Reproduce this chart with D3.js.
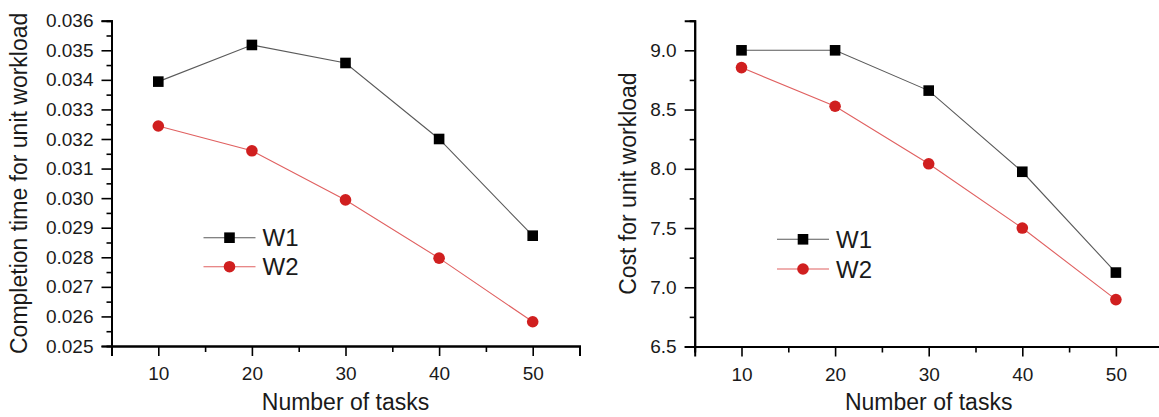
<!DOCTYPE html>
<html>
<head>
<meta charset="utf-8">
<script src="https://cdn.jsdelivr.net/npm/d3@7"></script>
<style>
  html, body { margin: 0; padding: 0; background: #fff; }
  svg { display: block; font-family: "Liberation Sans", Arial, sans-serif; }
</style>
</head>
<body>
<svg id="chart" width="1159" height="417"></svg>
<script>
// Number of tasks on the x axis
const tasks = [10, 20, 30, 40, 50];
const xMajorTicks = [10, 20, 30, 40, 50];
const xMinorTicks = [5, 15, 25, 35, 45, 55];

// Left panel: completion time for unit workload
const timeW1 = [0.03394, 0.03518, 0.03457, 0.0320, 0.02873];
const timeW2 = [0.03244, 0.0316, 0.02994, 0.02797, 0.02582];
const timeTicks = [0.025, 0.026, 0.027, 0.028, 0.029, 0.030, 0.031, 0.032, 0.033, 0.034, 0.035, 0.036];
const timeMinorTicks = [0.0255, 0.0265, 0.0275, 0.0285, 0.0295, 0.0305, 0.0315, 0.0325, 0.0335, 0.0345, 0.0355];

// Right panel: cost for unit workload
const costW1 = [9.0, 9.0, 8.66, 7.975, 7.124];
const costW2 = [8.854, 8.528, 8.042, 7.50, 6.896];
const costTicks = [6.5, 7.0, 7.5, 8.0, 8.5, 9.0];
const costMinorTicks = [6.75, 7.25, 7.75, 8.25, 8.75, 9.25];

const seriesNames = ["W1", "W2"];

const svg = d3.select("#chart");
const FONT = "'Liberation Sans', Arial, sans-serif";

const styles = {
  W1: { line: "#5a5a5a", fill: "#000000", shape: "square" },
  W2: { line: "#e06060", fill: "#d01f1f", shape: "circle" }
};

function drawPanel(cfg) {
  const x = d3.scaleLinear().domain([5, 55]).range([cfg.left, cfg.left + 468]);
  const y = d3.scaleLinear().domain(cfg.yDomain).range([cfg.bottom, cfg.top]);
  const g = svg.append("g");

  // minor ticks
  g.append("g").attr("transform", `translate(0,${cfg.bottom})`)
    .call(d3.axisBottom(x).tickValues(xMinorTicks).tickSize(6).tickFormat(""));
  g.append("g").attr("transform", `translate(${cfg.left},0)`)
    .call(d3.axisLeft(y).tickValues(cfg.yMinor).tickSize(5).tickFormat(""));

  // major axes
  const xAxis = g.append("g").attr("transform", `translate(0,${cfg.bottom})`)
    .call(d3.axisBottom(x).tickValues(xMajorTicks).tickSize(10).tickPadding(5).tickFormat(d3.format("d")));
  g.append("g").attr("transform", `translate(${cfg.left},0)`)
    .call(d3.axisLeft(y).tickValues(cfg.yTicks).tickSize(10).tickPadding(8).tickFormat(cfg.yFormat));

  g.selectAll(".domain").attr("stroke", "#000").attr("stroke-width", 2);
  g.selectAll(".tick line").attr("stroke", "#000").attr("stroke-width", 1.6);
  g.selectAll(".tick text").attr("fill", "#1a1a1a").attr("font-size", 19).attr("font-family", FONT);
  xAxis.selectAll(".tick text").attr("dy", "1.0em");

  // axis titles
  g.append("text")
    .attr("x", x(30)).attr("y", 410)
    .attr("text-anchor", "middle")
    .attr("font-size", 23).attr("font-family", FONT).attr("fill", "#1a1a1a")
    .text("Number of tasks");
  g.append("text")
    .attr("transform", `translate(${cfg.titleX},${(cfg.top + cfg.bottom) / 2}) rotate(-90)`)
    .attr("text-anchor", "middle")
    .attr("font-size", 23).attr("font-family", FONT).attr("fill", "#1a1a1a")
    .text(cfg.yTitle);

  // series lines and markers
  const seriesData = [cfg.w1, cfg.w2];
  seriesNames.forEach((name, i) => {
    const st = styles[name];
    const pts = tasks.map((t, j) => [t, seriesData[i][j]]);
    g.append("path")
      .datum(pts)
      .attr("fill", "none")
      .attr("stroke", st.line)
      .attr("stroke-width", 1.1)
      .attr("d", d3.line().x(d => x(d[0])).y(d => y(d[1])));
    drawMarkers(g, pts.map(d => [x(d[0]), y(d[1])]), st);
  });

  // legend
  seriesNames.forEach((name, i) => {
    const st = styles[name];
    const ly = cfg.legendY[i];
    const lx = cfg.legendX;
    g.append("line")
      .attr("x1", lx).attr("x2", lx + 52)
      .attr("y1", ly).attr("y2", ly)
      .attr("stroke", st.line).attr("stroke-width", 1.1);
    drawMarkers(g, [[lx + 26, ly]], st);
    g.append("text")
      .attr("x", lx + 59).attr("y", ly)
      .attr("dy", "0.36em")
      .attr("font-size", 24).attr("font-family", FONT).attr("fill", "#1a1a1a")
      .text(name);
  });
}

function drawMarkers(g, coords, st) {
  if (st.shape === "square") {
    g.selectAll(null).data(coords).enter().append("rect")
      .attr("x", d => d[0] - 5.3).attr("y", d => d[1] - 5.3)
      .attr("width", 10.6).attr("height", 10.6)
      .attr("fill", st.fill);
  } else {
    g.selectAll(null).data(coords).enter().append("circle")
      .attr("cx", d => d[0]).attr("cy", d => d[1]).attr("r", 5.8)
      .attr("fill", st.fill);
  }
}

drawPanel({
  left: 111.5, top: 20.7, bottom: 346,
  yDomain: [0.025, 0.036],
  yTicks: timeTicks, yMinor: timeMinorTicks,
  yFormat: d3.format(".3f"),
  yTitle: "Completion time for unit workload",
  titleX: 27,
  w1: timeW1, w2: timeW2,
  legendX: 203.5, legendY: [237.7, 266.7]
});

drawPanel({
  left: 694.7, top: 20.7, bottom: 346.5,
  yDomain: [6.5, 9.25],
  yTicks: costTicks, yMinor: costMinorTicks,
  yFormat: d3.format(".1f"),
  yTitle: "Cost for unit workload",
  titleX: 636,
  w1: costW1, w2: costW2,
  legendX: 777, legendY: [239.3, 269]
});
</script>
</body>
</html>
